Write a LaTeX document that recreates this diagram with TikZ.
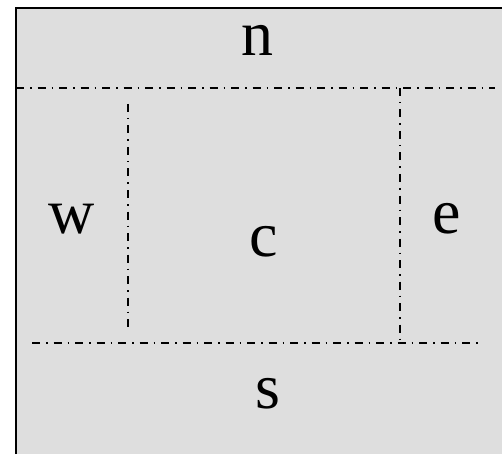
\documentclass[tikz,border=0pt]{standalone}
\usepackage{fontspec}
\setmainfont{Liberation Serif}
\definecolor{panelgray}{RGB}{222,222,222}
\tikzset{
  divider/.style={line width=1.3pt, dash pattern=on 8pt off 6pt on 1.5pt off 6pt},
  regionlabel/.style={anchor=base, inner sep=0pt, font=\fontsize{64}{64}\selectfont}
}
\begin{document}
\begin{tikzpicture}[x=1pt,y=-1pt]
\useasboundingbox (0,0) rectangle (502,454);
\fill[panelgray] (16,8) rectangle (502,454);
\draw[line width=2pt] (16,454) -- (16,8) -- (502,8);
% dividers
\coordinate (tl) at (16,88);
\coordinate (tr) at (495,88);
\coordinate (bl) at (32,343);
\coordinate (br) at (481,343);
\coordinate (lvt) at (128,104);
\coordinate (lvb) at (128,332);
\coordinate (rvt) at (400,88);
\coordinate (rvb) at (400,339);
\draw[divider] (tl) -- (tr);
\draw[divider] (bl) -- (br);
\draw[divider] (lvt) -- (lvb);
\draw[divider] (rvt) -- (rvb);
% labels
\node[regionlabel] (n) at (257,56) {n};
\node[regionlabel] (w) at (72,233) {w};
\node[regionlabel] (c) at (264,256) {c};
\node[regionlabel] (e) at (446.5,233) {e};
\node[regionlabel] (s) at (268,408) {s};
\end{tikzpicture}
\end{document}
